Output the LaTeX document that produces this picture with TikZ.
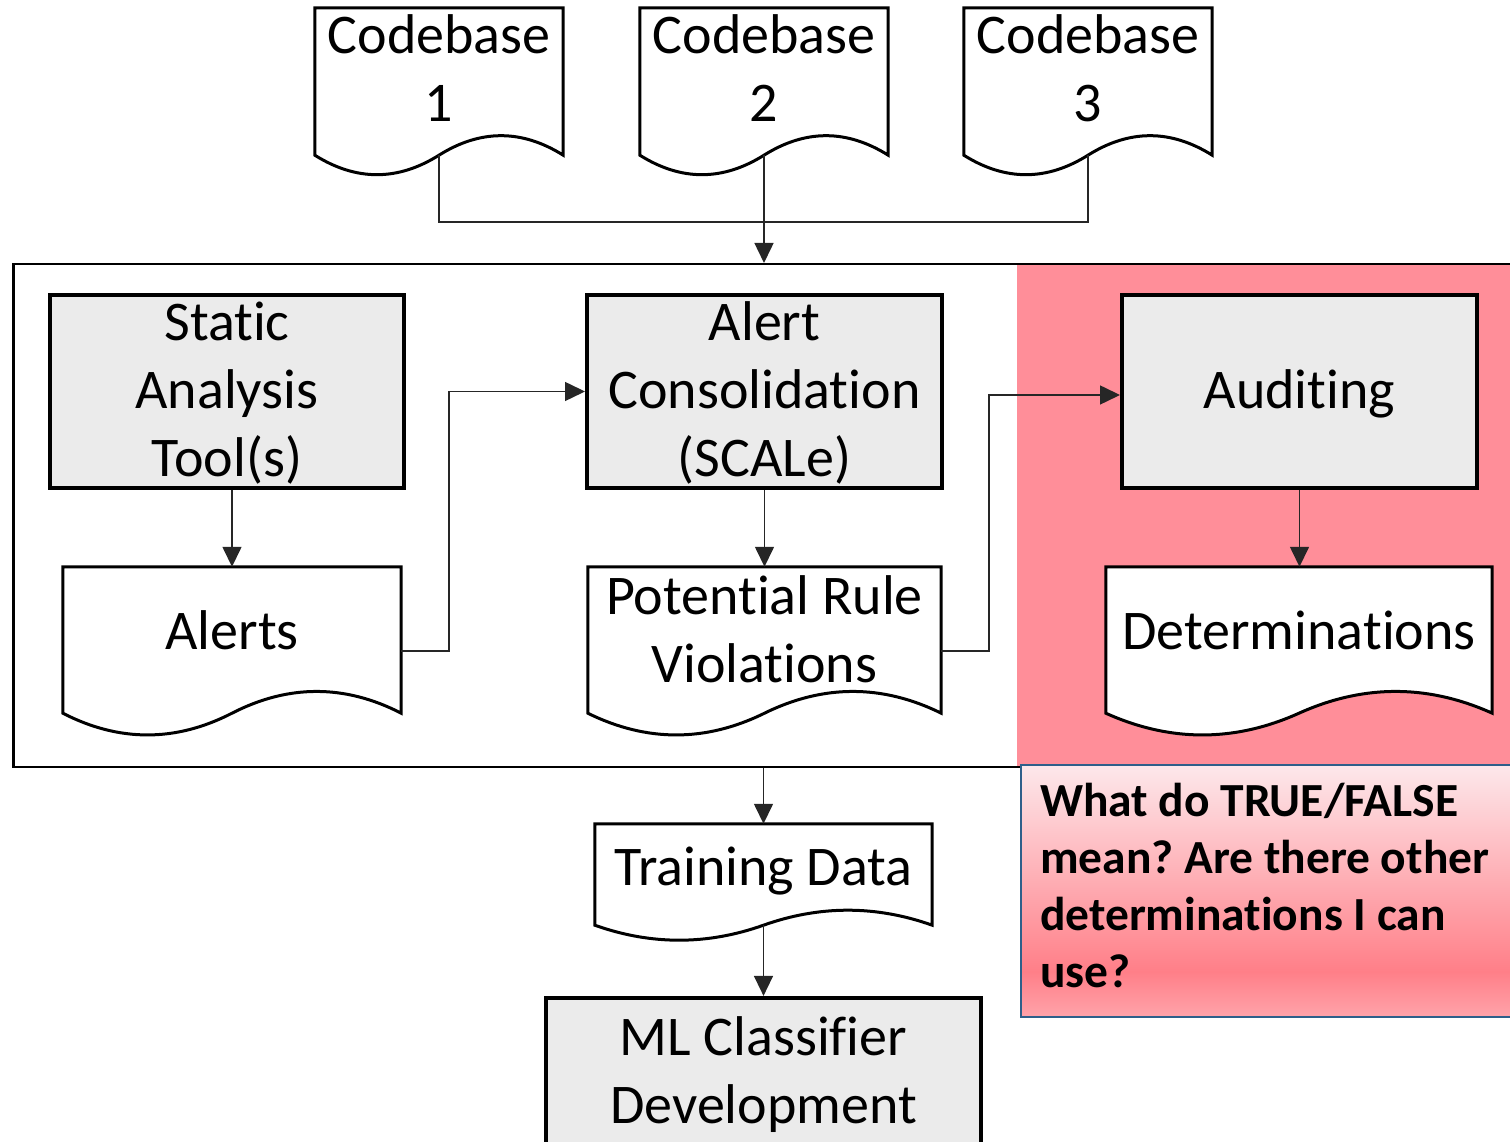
\documentclass[tikz,border=0pt]{standalone}
\usepackage{fontspec}
\setmainfont{Carlito}[Ligatures=NoCommon]
\usetikzlibrary{calc,arrows.meta}
\frenchspacing

\definecolor{boxgray}{HTML}{EBEBEB}
\definecolor{auditpink}{HTML}{FF8E99}
\definecolor{notetop}{HTML}{FDE8EB}
\definecolor{notemid}{HTML}{FF7F88}
\definecolor{notebot}{HTML}{FFA3AA}
\definecolor{noteedge}{HTML}{2E5F8A}

% vertical fill of the question note: pale at the top, deepest near the bottom
\pgfdeclareverticalshading{noteshade}{100bp}{color(0bp)=(notebot); color(25bp)=(notebot); color(34bp)=(notemid); color(75bp)=(notetop); color(100bp)=(notetop)}

% document outline around an (empty) node: straight top and sides, wavy bottom
\newcommand\drawdoc[2]{%
  \draw[doc] (#1.south west) -- (#1.north west) -- (#1.north east) -- (#1.south east)
    .. controls ($(#1.south east)!1/3!(#1.south)+(0,#2)$) and ($(#1.south east)!2/3!(#1.south)+(0,#2)$) .. (#1.south)
    .. controls ($(#1.south)!1/3!(#1.south west)-(0,#2)$) and ($(#1.south)!2/3!(#1.south west)-(0,#2)$) .. (#1.south west) -- cycle;}

\begin{document}
\begin{tikzpicture}[x=1pt,y=1pt,
  bigfont/.style={font=\fontsize{56}{68}\selectfont},
  gbox/.style={draw, line width=4pt, fill=boxgray, inner sep=0pt},
  docn/.style={inner sep=0pt},
  dtxt/.style={inner sep=0pt, align=center, bigfont},
  doc/.style={draw, line width=3pt, fill=white, line join=miter},
  conn/.style={line width=1.5pt, draw=black!85},
  arr/.style={conn, -{Triangle[length=20pt,width=19pt]}},
]
\useasboundingbox (0,0) rectangle (1510,1141);
\clip (0,0) rectangle (1510,1141);

% auditing stage background and the enclosing process frame
\fill[auditpink] (1017,375) rectangle (1530,877);
\node[draw, line width=2.5pt, minimum width=1520, minimum height=503, inner sep=0pt, anchor=north west] (stage) at (12,878) {};

% question note
\node[draw=noteedge, line width=2pt, shade, shading=noteshade, minimum width=520, minimum height=252, inner sep=0pt, anchor=north west] (note) at (1020,377) {};
\node[anchor=west, inner sep=0pt, align=left, font=\fontsize{47.5}{57}\selectfont\bfseries] (notetext) at (1040,249.9)
  {\strut What do TRUE/FALSE\\\strut mean? Are there other\\\strut determinations I can\\\strut use?};

% codebases
\node[docn, minimum width=248, minimum height=147] (cb1) at (439,1059.5) {};
\node[docn, minimum width=248, minimum height=147] (cb2) at (764,1059.5) {};
\node[docn, minimum width=248, minimum height=147] (cb3) at (1088,1059.5) {};
\drawdoc{cb1}{26}
\drawdoc{cb2}{26}
\drawdoc{cb3}{26}
\node[dtxt] (cb1t) at (439,1067) {\strut Codebase\\\strut 1};
\node[dtxt] (cb2t) at (764,1067) {\strut Codebase\\\strut 2};
\node[dtxt] (cb3t) at (1088,1067) {\strut Codebase\\\strut 3};

% process boxes
\node[gbox, minimum width=354, minimum height=193] (sat) at (227,749.5) {};
\node[gbox, minimum width=355, minimum height=193] (cons) at (764.5,749.5) {};
\node[gbox, minimum width=355, minimum height=193] (aud) at (1299.5,749.5) {};
\node[gbox, minimum width=435, minimum height=155] (ml) at (763.5,65.6) {};
\node[dtxt] (satt) at (227,746) {\strut Static\\\strut Analysis\\\strut Tool(s)};
\node[dtxt] (const) at (764.5,746) {\strut Alert\\\strut Consolidation\\\strut (SCALe)};
\node[dtxt] (audt) at (1299.5,746) {\strut Auditing};
\node[dtxt] (mlt) at (763.5,65.6) {\strut ML Classifier\\\strut Development};

% intermediate documents
\node[docn, minimum width=338, minimum height=146] (alerts) at (232,501) {};
\node[docn, minimum width=353, minimum height=146] (prv) at (764.5,501) {};
\node[docn, minimum width=386, minimum height=146] (det) at (1299,501) {};
\node[docn, minimum width=337, minimum height=101] (td) at (763.5,266.5) {};
\drawdoc{alerts}{29}
\drawdoc{prv}{29}
\drawdoc{det}{29}
\drawdoc{td}{20}
\node[dtxt] (alertst) at (232,504.6) {\strut Alerts};
\node[dtxt] (prvt) at (764.5,505.6) {\strut Potential Rule\\\strut Violations};
\node[dtxt] (dett) at (1299,504.6) {\strut Determinations};
\node[dtxt] (tdt) at (763.5,268.6) {\strut Training Data};

% connectors
\coordinate (join) at (764,919);
\coordinate (bend1) at (449,749.5);
\coordinate (bend2) at (989,746);
\draw[conn] (cb1.south) |- (join) -| (cb3.south);
\draw[arr] (cb2.south) -- (cb2.south |- stage.north);
\draw[arr] (alerts.north |- sat.south) -- (alerts.north);
\draw[arr] ([yshift=-11pt]alerts.east) -| (bend1) -- (cons.west);
\draw[arr] (cons.south) -- (prv.north);
\draw[arr] ([yshift=-11pt]prv.east) -| (bend2) -- ([yshift=-3.5pt]aud.west);
\draw[arr] (aud.south) -- (aud.south |- det.north);
\draw[arr] (td.north |- stage.south) -- (td.north);
\draw[arr] (td.south) -- (ml.north);
\end{tikzpicture}
\end{document}
